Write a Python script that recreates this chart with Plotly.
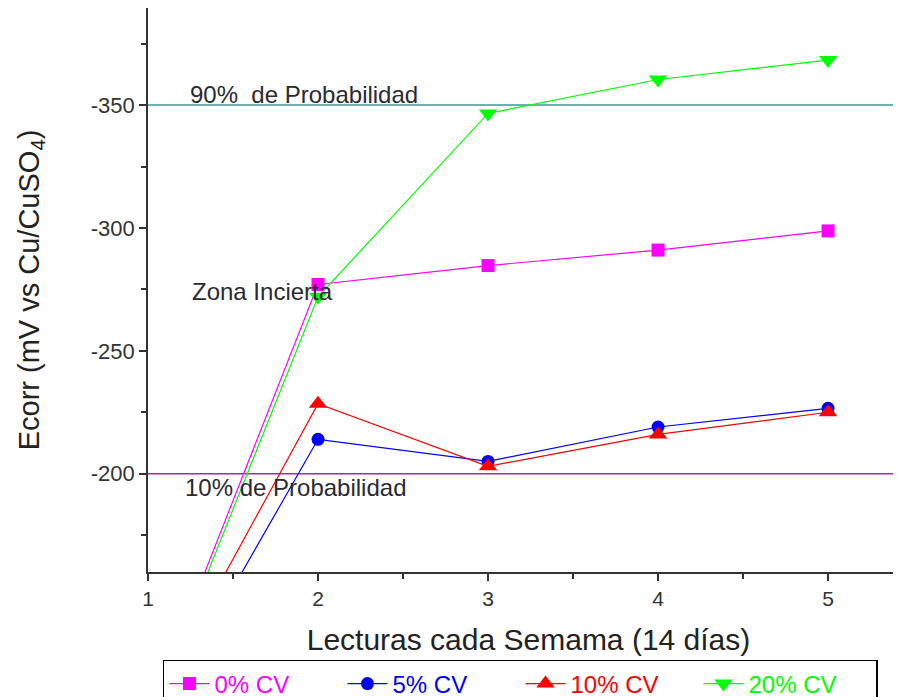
import plotly.graph_objects as go

semanas = [1, 2, 3, 4, 5]
cv0 = [-101, -277, -284.7, -291, -298.8]
cv5 = [-93, -214, -205, -219, -226.6]
cv10 = [-102, -228.5, -203, -216, -225]
cv20 = [-99, -272, -346.6, -360.4, -368.3]

series_names = ["0% CV", "5% CV", "10% CV", "20% CV"]
series_vals = [cv0, cv5, cv10, cv20]
colors = ["#FF00FF", "#0000FF", "#FF0000", "#00FF00"]
symbols = ["square", "circle", "triangle-up", "triangle-down"]
marker_sizes = [13, 13, 16, 16]

lim90 = -350
lim10 = -200

x_ticks = [1, 2, 3, 4, 5]
y_ticks = [-350, -300, -250, -200]
y_tick_text = ["-350", "-300", "-250", "-200"]

FONT = "Liberation Sans, Arial, sans-serif"

fig = go.Figure()
for name, vals, c, s, ms in zip(series_names, series_vals, colors, symbols, marker_sizes):
    fig.add_trace(go.Scatter(
        x=semanas, y=vals, name=f"<span style='color:{c}'>{name}</span>",
        mode="lines+markers",
        line=dict(color=c, width=1.2),
        marker=dict(symbol=s, color=c, size=ms, line=dict(width=0)),
        cliponaxis=True,
    ))

fig.add_hline(y=lim90, line=dict(color="#3A9A9A", width=1.6), layer="below")
fig.add_hline(y=lim10, line=dict(color="#993399", width=1.6), layer="below")

fig.add_annotation(x=1.235, y=lim90, text="90%  de Probabilidad", showarrow=False,
                   xanchor="left", yanchor="bottom", yshift=-5,
                   font=dict(family=FONT, size=24, color="#2a2a33"))
fig.add_annotation(x=1.245, y=-274, text="Zona Incierta", showarrow=False,
                   xanchor="left", yanchor="middle",
                   font=dict(family=FONT, size=24, color="#2a2a33"))
fig.add_annotation(x=1.205, y=lim10, text="10% de Probabilidad", showarrow=False,
                   xanchor="left", yanchor="top", yshift=2,
                   font=dict(family=FONT, size=24, color="#2a2a33"))

fig.update_layout(
    width=901, height=697,
    margin=dict(l=140, r=0, t=0, b=133, autoexpand=False),
    paper_bgcolor="white", plot_bgcolor="white",
    font=dict(family=FONT, color="#333333"),
    showlegend=True,
    legend=dict(
        orientation="h", x=0.0197, y=-0.156, xanchor="left", yanchor="top",
        bordercolor="black", borderwidth=1.5, bgcolor="white",
        font=dict(family=FONT, size=24),
        itemwidth=40, tracegroupgap=0, entrywidth=123, entrywidthmode="pixels",
    ),
    xaxis=dict(
        range=[1, 5.476], tickvals=x_ticks, ticks="outside", ticklen=7, tickwidth=1.5,
        tickcolor="#333333", showline=True, linecolor="#333333", linewidth=1.5,
        mirror=True, showgrid=False, zeroline=False,
        tickfont=dict(family=FONT, size=21, color="#333333"),
        minor=dict(ticks="outside", dtick=0.5, tick0=1, ticklen=5, tickwidth=1.5,
                   tickcolor="#333333", showgrid=False),
        title=dict(text="Lecturas cada Semama (14 días)",
                   font=dict(family=FONT, size=30, color="#222222"), standoff=20),
        automargin=False,
    ),
    yaxis=dict(
        range=[-160, -389.5], tickvals=y_ticks, ticktext=y_tick_text,
        ticks="outside", ticklen=7, tickwidth=1.5,
        tickcolor="#333333", showline=True, linecolor="#333333", linewidth=1.5,
        showgrid=False, zeroline=False,
        tickfont=dict(family=FONT, size=22, color="#333333"),
        minor=dict(ticks="outside", dtick=25, tick0=-400, ticklen=5, tickwidth=1.5,
                   tickcolor="#333333", showgrid=False),
        title=dict(text="Ecorr (mV vs Cu/CuSO<sub>4</sub>)",
                   font=dict(family=FONT, size=29, color="#222222"), standoff=43),
        automargin=False,
    ),
)

fig.write_html("out.html")
